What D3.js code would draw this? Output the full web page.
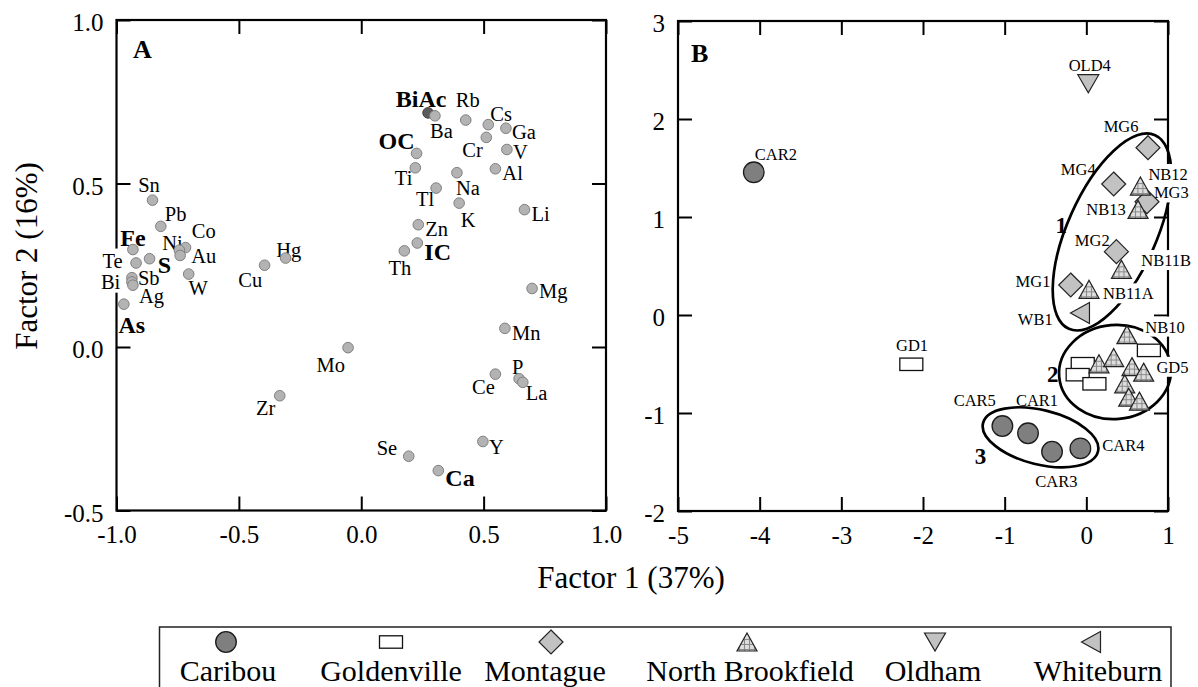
<!DOCTYPE html>
<html>
<head>
<meta charset="utf-8">
<script src="https://cdn.jsdelivr.net/npm/d3@7"></script>
<style>
body { margin: 0; background: #fff; }
svg { display: block; }
svg text { font-family: "Liberation Serif", "Times New Roman", Times, serif; }
</style>
</head>
<body>
<div id="graphic"></div>
<script>
// ---- panel A : factor loadings of the elements ----
var elements = ["BiAc","Ba","Rb","Cs","Ga","Cr","V","OC","Ti","Al","Na","Tl","K","Li","Zn","IC","Th",
	"Mg","Mn","Ce","P","La","Y","Se","Ca","Mo","Zr","Cu","Hg","Sn","Pb","Co","Ni","Au","Fe","S",
	"Te","Bi","Sb","Ag","W","As"];
var loading1 = [0.273,0.301,0.427,0.519,0.591,0.511,0.595,0.226,0.221,0.548,0.391,0.306,0.400,0.667,0.233,0.229,0.176,
	0.698,0.587,0.548,0.645,0.660,0.497,0.194,0.315,-0.054,-0.333,-0.395,-0.309,-0.853,-0.819,-0.718,-0.743,-0.740,-0.933,-0.865,
	-0.920,-0.937,-0.937,-0.933,-0.705,-0.970];
var loading2 = [0.716,0.707,0.694,0.680,0.669,0.641,0.604,0.592,0.548,0.545,0.533,0.486,0.440,0.420,0.374,0.318,0.294,
	0.179,0.057,-0.083,-0.097,-0.108,-0.289,-0.334,-0.378,-0.002,-0.149,0.250,0.272,0.449,0.369,0.304,0.296,0.280,0.298,0.270,
	0.257,0.212,0.199,0.189,0.223,0.131];
var boldElements = ["BiAc","OC","IC","Ca","Fe","S","As"];

// ---- panel B : sample scores ----
var sampleLabels = ["CAR1","CAR2","CAR3","CAR4","CAR5",
	"GD1","GD5","","","",
	"NB10","NB11A","NB11B","NB12","NB13","","","","","","","",
	"MG1","MG2","MG3","MG4","MG6",
	"OLD4","WB1"];
var sampleSites = ["Caribou","Caribou","Caribou","Caribou","Caribou",
	"Goldenville","Goldenville","Goldenville","Goldenville","Goldenville",
	"North Brookfield","North Brookfield","North Brookfield","North Brookfield","North Brookfield",
	"North Brookfield","North Brookfield","North Brookfield","North Brookfield","North Brookfield","North Brookfield","North Brookfield",
	"Montague","Montague","Montague","Montague","Montague",
	"Oldham","Whiteburn"];
var score1 = [-0.714,-4.072,-0.420,-0.073,-1.028,
	-2.143,0.766,-0.044,-0.106,0.099,
	0.497,0.033,0.430,0.662,0.633,0.155,0.335,0.559,0.702,0.470,0.519,0.650,
	-0.191,0.368,0.743,0.335,0.755,
	0.024,-0.078];
var score2 = [-1.207,1.456,-1.395,-1.361,-1.133,
	-0.503,-0.361,-0.497,-0.609,-0.702,
	-0.200,0.262,0.466,1.316,1.078,-0.498,-0.434,-0.527,-0.583,-0.702,-0.839,-0.879,
	0.306,0.646,1.156,1.337,1.707,
	2.360,0.020];

var siteNames = ["Caribou","Goldenville","Montague","North Brookfield","Oldham","Whiteburn"];

// cluster rings drawn round the sample groups
var clusterNames = ["1","2","3"];
var clusterX = [0.314,0.351,-0.561];
var clusterY = [0.847,-0.582,-1.248];
var clusterLabelX = [-0.307,-0.411,-1.296];
var clusterLabelY = [0.834,-0.681,-1.520];

var xTicksA = [-1,-0.5,0,0.5,1];
var yTicksA = [-0.5,0,0.5,1];
var xTicksB = [-5,-4,-3,-2,-1,0,1];
var yTicksB = [-2,-1,0,1,2,3];

// ---- layout ----
var width = 1198, height = 687;

var ringRx = [106,56,59.2], ringRy = [44.5,47,27.2], ringAngle = [-66,-5,13.9];

// label placement: [anchor, dx, dy]
var labelPosA = {
	BiAc:["middle",-7,-6], Ba:["middle",6.5,22], Rb:["middle",2,-13], Cs:["start",2,-4], Ga:["start",6,11],
	Cr:["end",-3.5,20], V:["start",6,10], OC:["end",-2,-4.5], Ti:["end",-3,17], Al:["start",7,11],
	Na:["middle",11,22.5], Tl:["end",-2,18], K:["middle",9,23.5], Li:["start",7,11], Zn:["start",7,11.5],
	IC:["start",7,17], Th:["middle",-4.5,24.5], Mg:["start",7,9.5], Mn:["start",7,11.5], Ce:["end",-0.5,20],
	P:["middle",-1.5,-5], La:["start",3,18], Y:["start",6,12], Se:["end",-11.5,-1.5], Ca:["start",7,15],
	Mo:["end",-3,24.5], Zr:["end",-4.5,19], Cu:["end",-2.3,21.7], Hg:["middle",3.2,-1], Sn:["middle",-3.5,-8.3],
	Pb:["start",4,-5], Co:["start",6.3,-9.6], Ni:["middle",-7,0], Au:["start",11,7.3], Fe:["middle",0,-4],
	S:["start",8.3,14], Te:["end",-13.4,4.6], Bi:["end",-11.6,11], Sb:["start",6,3.5], Ag:["start",6,17.5],
	W:["middle",9.4,21], As:["middle",7.9,29.3]
};
var boxedA = ["Te","Bi"];

var labelPosB = {
	CAR1:["middle",9,-27.3], CAR2:["start",1,-12.7], CAR3:["middle",4.4,35.6], CAR4:["start",22,2.4],
	CAR5:["end",-6.5,-20], GD1:["middle",0.7,-13.3], GD5:["start",7.5,22.4], MG1:["end",-20.3,1.7],
	MG2:["end",-6.7,-5.7], MG3:["start",6.9,-3.3], MG4:["end",-18,-9], MG6:["end",-9.5,-16],
	NB10:["start",18.3,-2], NB11A:["start",14,10], NB11B:["start",19.8,-3.3], NB12:["start",8,-6],
	NB13:["end",-12.3,6], OLD4:["middle",1.5,-12.3], WB1:["end",-27.3,12.3]
};
var boxedB = ["NB12","MG3","NB11B","NB11A","NB10","GD5"];

var legendTextX = [228,391,545,750,933,1098];
var legendSymbolX = [226,391,551,747,935,1091];

var svg = d3.select("#graphic").append("svg")
	.attr("width", width)
	.attr("height", height)
	.style("background", "#fff");

var defs = svg.append("defs");
var hatch = defs.append("pattern")
	.attr("id", "grid")
	.attr("patternUnits", "userSpaceOnUse")
	.attr("width", 5)
	.attr("height", 5);
hatch.append("rect").attr("width", 5).attr("height", 5).attr("fill", "#dedede");
hatch.append("path").attr("d", "M0,2.5H5M2.5,0V5").attr("stroke", "#8a8a8a").attr("stroke-width", 1.1);

var xA = d3.scaleLinear().domain([-1, 1]).range([116.5, 606]);
var yA = d3.scaleLinear().domain([-0.5, 1]).range([510.5, 20]);
var xB = d3.scaleLinear().domain([-5, 1]).range([678, 1168]);
var yB = d3.scaleLinear().domain([-2, 3]).range([511, 21]);

var fmtA = function(d) { return d.toFixed(1); };
var fmtB = function(d) { return String(d); };

function drawFrame(g, x, y, xt, yt, fmt) {
	var xr = x.range(), yr = y.range();
	var tick = 14;

	g.append("g").attr("class", "ax").attr("transform", "translate(0," + yr[0] + ")")
		.call(d3.axisBottom(x).tickValues(xt).tickSize(-tick).tickPadding(15).tickFormat(fmt));
	g.append("g").attr("class", "ax").attr("transform", "translate(0," + yr[1] + ")")
		.call(d3.axisTop(x).tickValues(xt).tickSize(-tick).tickFormat(""));
	g.append("g").attr("class", "ax").attr("transform", "translate(" + xr[0] + ",0)")
		.call(d3.axisLeft(y).tickValues(yt).tickSize(-tick).tickPadding(13).tickFormat(fmt));
	g.append("g").attr("class", "ax").attr("transform", "translate(" + xr[1] + ",0)")
		.call(d3.axisRight(y).tickValues(yt).tickSize(-tick).tickFormat(""));

	g.selectAll(".ax .domain").remove();
	g.selectAll(".ax").attr("font-family", null).attr("font-size", 25);
	g.selectAll(".ax line").attr("stroke", "#000").attr("stroke-width", 2);
	g.selectAll(".ax text").attr("fill", "#000");
	g.selectAll(".ax text").filter(function() { return d3.select(this).attr("dy") === "0.32em"; })
		.attr("dy", "0.42em");

	g.append("rect")
		.attr("x", xr[0]).attr("y", yr[1])
		.attr("width", xr[1] - xr[0]).attr("height", yr[0] - yr[1])
		.attr("fill", "none").attr("stroke", "#000").attr("stroke-width", 2.2);
}

function addLabel(g, px, py, txt, pos, size, bold, boxed) {
	var t = g.append("text")
		.attr("x", px + pos[1])
		.attr("y", py + pos[2])
		.attr("text-anchor", pos[0])
		.attr("font-size", size)
		.attr("font-weight", bold ? "bold" : "normal")
		.attr("fill", "#000")
		.text(txt);
	if (boxed) {
		var bb = t.node().getBBox();
		g.insert("rect", function() { return t.node(); })
			.attr("x", bb.x - 2).attr("y", bb.y - 1)
			.attr("width", bb.width + 4).attr("height", bb.height + 1)
			.attr("fill", "#fff");
	}
}

// symbol for each site
function drawSymbol(g, site, x, y) {
	var s;
	if (site === "Caribou") {
		s = g.append("circle").attr("cx", x).attr("cy", y).attr("r", 10.3)
			.attr("fill", "#7f7f7f").attr("stroke", "#1a1a1a").attr("stroke-width", 1.3);
	}
	else if (site === "Goldenville") {
		s = g.append("rect").attr("x", x - 11.5).attr("y", y - 6.2).attr("width", 23).attr("height", 12.4)
			.attr("fill", "#fff").attr("stroke", "#111").attr("stroke-width", 1.3);
	}
	else {
		var d;
		if (site === "Montague") d = "M0,-12L12,0L0,12L-12,0Z";
		else if (site === "North Brookfield") d = "M0,-9L10,9L-10,9Z";
		else if (site === "Oldham") d = "M-10.5,-9L10.5,-9L0,9Z";
		else d = "M-9.5,0L9.5,-10.5L9.5,10.5Z";
		s = g.append("path").attr("transform", "translate(" + x + "," + y + ")").attr("d", d)
			.attr("fill", site === "North Brookfield" ? "url(#grid)" : "#c2c2c2")
			.attr("stroke", "#222").attr("stroke-width", 1.2);
	}
	return s;
}

// ---------- panel A ----------
var gA = svg.append("g");
drawFrame(gA, xA, yA, xTicksA, yTicksA, fmtA);

gA.append("text").attr("x", 133).attr("y", 58)
	.attr("font-size", 26).attr("font-weight", "bold").text("A");

elements.forEach(function(el, i) {
	var bold = boldElements.indexOf(el) >= 0;
	addLabel(gA, xA(loading1[i]), yA(loading2[i]), el, labelPosA[el], bold ? 24 : 20.5, bold, boxedA.indexOf(el) >= 0);
});

gA.selectAll(".dot")
	.data(elements)
	.enter().append("circle")
	.attr("class", "dot")
	.attr("cx", function(d, i) { return xA(loading1[i]); })
	.attr("cy", function(d, i) { return yA(loading2[i]); })
	.attr("r", 5.3)
	.attr("fill", function(d) { return d === "BiAc" ? "#5c5c5c" : "#b3b3b3"; })
	.attr("stroke", function(d) { return d === "BiAc" ? "#404040" : "#808080"; })
	.attr("stroke-width", 1);

// ---------- panel B ----------
var gB = svg.append("g");
drawFrame(gB, xB, yB, xTicksB, yTicksB, fmtB);

gB.append("text").attr("x", 691).attr("y", 62)
	.attr("font-size", 26).attr("font-weight", "bold").text("B");

clusterNames.forEach(function(c, i) {
	gB.append("ellipse")
		.attr("transform", "translate(" + xB(clusterX[i]) + "," + yB(clusterY[i]) + ") rotate(" + ringAngle[i] + ")")
		.attr("rx", ringRx[i]).attr("ry", ringRy[i])
		.attr("fill", "none").attr("stroke", "#000").attr("stroke-width", 2.7);
	gB.append("text")
		.attr("x", xB(clusterLabelX[i])).attr("y", yB(clusterLabelY[i]))
		.attr("text-anchor", "middle")
		.attr("font-size", 23).attr("font-weight", "bold")
		.text(c);
});

sampleLabels.forEach(function(lab, i) {
	if (lab === "") return;
	addLabel(gB, xB(score1[i]), yB(score2[i]), lab, labelPosB[lab], 16.5, false, boxedB.indexOf(lab) >= 0);
});

siteNames.forEach(function(site) {
	sampleSites.forEach(function(s, i) {
		if (s === site) drawSymbol(gB, site, xB(score1[i]), yB(score2[i]));
	});
});

// ---------- axis titles ----------
svg.append("text")
	.attr("x", 631).attr("y", 588)
	.attr("text-anchor", "middle")
	.attr("font-size", 31)
	.text("Factor 1 (37%)");

svg.append("text")
	.attr("transform", "translate(37,256) rotate(-90)")
	.attr("text-anchor", "middle")
	.attr("font-size", 31)
	.text("Factor 2 (16%)");

// ---------- legend ----------
var legend = svg.append("g");
legend.append("rect")
	.attr("x", 159.5).attr("y", 627)
	.attr("width", 1011.5).attr("height", 90)
	.attr("fill", "none").attr("stroke", "#222").attr("stroke-width", 1.5);

siteNames.forEach(function(site, i) {
	drawSymbol(legend, site, legendSymbolX[i], 642);
	legend.append("text")
		.attr("x", legendTextX[i]).attr("y", 681)
		.attr("text-anchor", "middle")
		.attr("font-size", 30)
		.text(site);
});
</script>
</body>
</html>
